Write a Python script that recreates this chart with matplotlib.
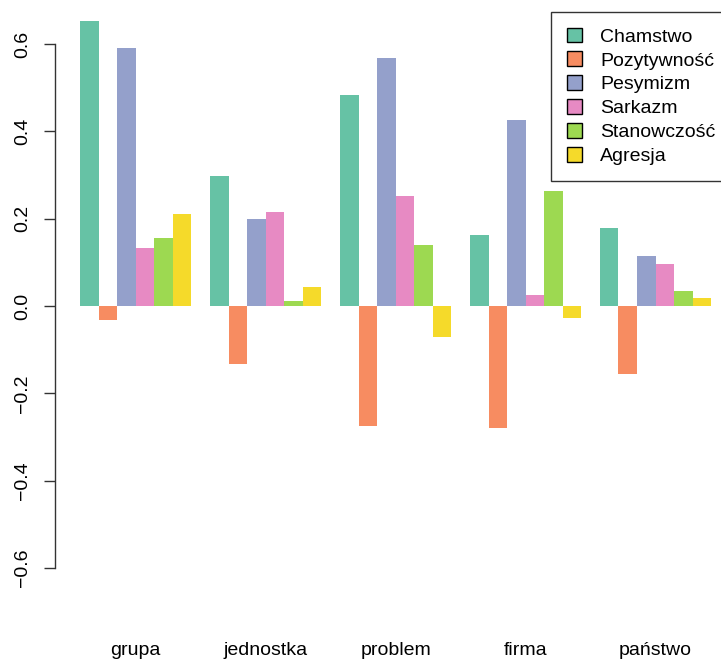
import matplotlib
matplotlib.use("Agg")
import matplotlib.pyplot as plt
import numpy as np
from matplotlib.patches import Patch

groups = ["grupa", "jednostka", "problem", "firma", "państwo"]
series = ["Chamstwo", "Pozytywność", "Pesymizm", "Sarkazm", "Stanowczość", "Agresja"]
colors = ["#66C2A5", "#F78C61", "#94A0CB", "#E78AC3", "#9DD951", "#F5DA2A"]

chamstwo = [0.653, 0.298, 0.483, 0.163, 0.179]
pozytywnosc = [-0.032, -0.133, -0.275, -0.279, -0.155]
pesymizm = [0.590, 0.199, 0.568, 0.426, 0.114]
sarkazm = [0.133, 0.215, 0.252, 0.025, 0.096]
stanowczosc = [0.156, 0.011, 0.140, 0.263, 0.034]
agresja = [0.211, 0.044, -0.070, -0.027, 0.018]

values = [chamstwo, pozytywnosc, pesymizm, sarkazm, stanowczosc, agresja]

plt.rcParams['font.family'] = ['Liberation Sans', 'DejaVu Sans']
W, H = 721, 662
fig = plt.figure(figsize=(W / 100, H / 100), dpi=100)

# plot region in pixels (R-style barplot layout)
left_px, right_px = 54.7, 736.6
top_px, bot_px = 12, 600
ax = fig.add_axes([left_px / W, 1 - bot_px / H, (right_px - left_px) / W, (bot_px - top_px) / H])

n_ser = len(series)
base = np.arange(len(groups)) * (n_ser + 1) + 1
for j, (vals, col) in enumerate(zip(values, colors)):
    ax.bar(base + j + 0.5, vals, width=1.0, color=col, edgecolor='none', align='center')

ax.set_xlim(-0.36, 36.36)
ax.set_ylim(-0.6732, 0.6732)

for s in ['top', 'right', 'bottom']:
    ax.spines[s].set_visible(False)
ax.spines['left'].set_bounds(-0.6, 0.6)
ax.spines['left'].set_linewidth(1.0)
ax.spines['left'].set_color('#333333')

yt = [-0.6, -0.4, -0.2, 0.0, 0.2, 0.4, 0.6]
ax.set_yticks(yt)
ax.set_yticklabels([f"{v:.1f}".replace('-', '\u2212') for v in yt], rotation=90, va='center', fontsize=14)
ax.tick_params(axis='y', length=8, width=1.0, color='#333333', pad=9)

ax.set_xticks(base + n_ser / 2)
ax.set_xticklabels(groups, fontsize=14)
ax.tick_params(axis='x', length=0, pad=30)

handles = [Patch(facecolor=c, edgecolor='black', linewidth=1.0) for c in colors]
leg = fig.legend(handles, series, loc='upper left', bbox_to_anchor=(551 / W, 1 - 12 / H),
                 fontsize=14, frameon=True, fancybox=False, edgecolor='black',
                 handlelength=0.78, handleheight=0.78, handletextpad=0.95,
                 labelspacing=0.3, borderpad=0.8, borderaxespad=0)
leg.get_frame().set_linewidth(1.0)

fig.savefig("out.png", dpi=100)
